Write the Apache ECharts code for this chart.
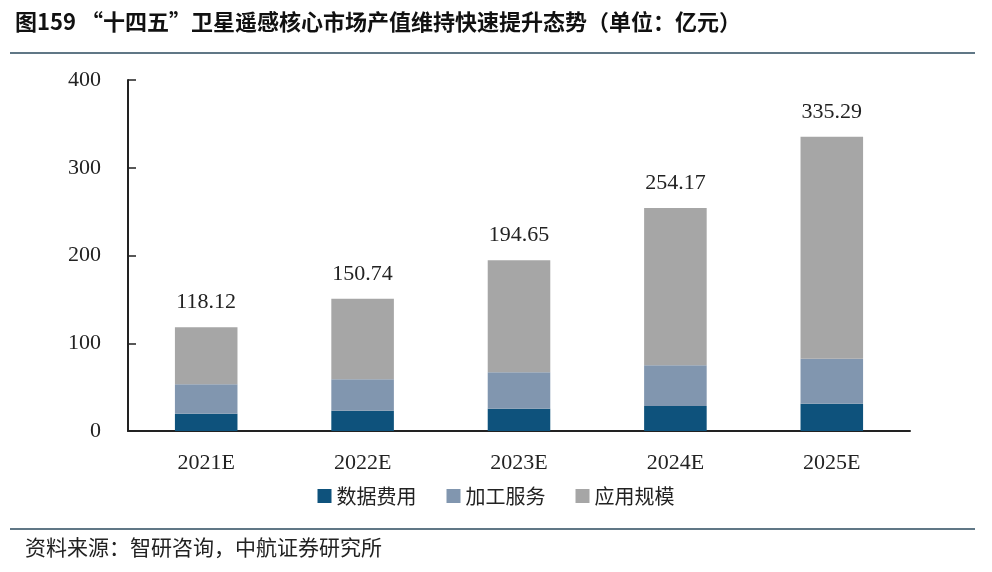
<!DOCTYPE html>
<html>
<head>
<meta charset="utf-8">
<script src="https://cdn.jsdelivr.net/npm/echarts@6/dist/echarts.min.js"></script>
<style>html,body{margin:0;padding:0;background:#fff;}#c{width:992px;height:572px;}</style>
</head>
<body>
<div id="c"></div>
<script>
const categories = ['2021E', '2022E', '2023E', '2024E', '2025E'];
const dataFee = [19.7, 23.2, 25.4, 28.5, 31.1];
const processing = [33.5, 35.7, 41.5, 46.3, 51.3];
const application = [64.92, 91.84, 127.75, 179.37, 252.89];
const totals = [118.12, 150.74, 194.65, 254.17, 335.29];
const yTicks = [0, 100, 200, 300, 400];

const chart = echarts.init(document.getElementById('c'));
const numFont = '"Liberation Serif", "DejaVu Serif", serif';
const cjkFont = '"Noto Sans CJK SC", sans-serif';
chart.setOption({
  animation: false,
  title: {
    text: '图159 “十四五”卫星遥感核心市场产值维持快速提升态势（单位：亿元）',
    left: 10, top: 6,
    textStyle: { fontFamily: cjkFont, fontWeight: 'bold', fontSize: 22, color: '#111' }
  },
  graphic: [
    { type: 'line', shape: { x1: 10, y1: 53, x2: 975, y2: 53 }, style: { stroke: '#2b4a5e', lineWidth: 1.5 } },
    { type: 'line', shape: { x1: 10, y1: 529, x2: 975, y2: 529 }, style: { stroke: '#2b4a5e', lineWidth: 1.5 } },
    { type: 'text', left: 25, top: 537, style: { text: '资料来源：智研咨询，中航证券研究所', font: '21px "Noto Sans CJK SC", sans-serif', fill: '#222' } }
  ],
  legend: {
    data: ['数据费用', '加工服务', '应用规模'],
    left: 'center', top: 481,
    itemWidth: 14, itemHeight: 14, itemGap: 30,
    icon: 'rect',
    textStyle: { fontFamily: cjkFont, fontSize: 20, color: '#222' }
  },
  grid: { left: 128, right: 82, top: 80, bottom: 141 },
  xAxis: {
    type: 'category', data: categories,
    axisLine: { lineStyle: { color: '#222', width: 2 } },
    axisTick: { inside: true, length: 8, lineStyle: { color: '#222', width: 1.5 } },
    axisLabel: { fontFamily: numFont, fontSize: 22, color: '#222', margin: 21 }
  },
  yAxis: {
    type: 'value', min: 0, max: 400, interval: 100,
    axisLine: { show: true, lineStyle: { color: '#222', width: 2 } },
    axisTick: { show: true, inside: true, length: 8, lineStyle: { color: '#222', width: 1.5 } },
    axisLabel: { fontFamily: numFont, fontSize: 22, color: '#222', margin: 27,
      formatter: v => yTicks.includes(v) ? String(v) : '' },
    splitLine: { show: false }
  },
  series: [
    { name: '数据费用', type: 'bar', stack: 't', barWidth: '40%', data: dataFee, itemStyle: { color: '#0e527c' } },
    { name: '加工服务', type: 'bar', stack: 't', data: processing, itemStyle: { color: '#8196af' } },
    { name: '应用规模', type: 'bar', stack: 't', data: application, itemStyle: { color: '#a6a6a6' },
      label: { show: true, position: 'top', distance: 14, fontFamily: numFont, fontSize: 22, color: '#222',
        formatter: p => totals[p.dataIndex].toFixed(2) } }
  ]
});
</script>
</body>
</html>
